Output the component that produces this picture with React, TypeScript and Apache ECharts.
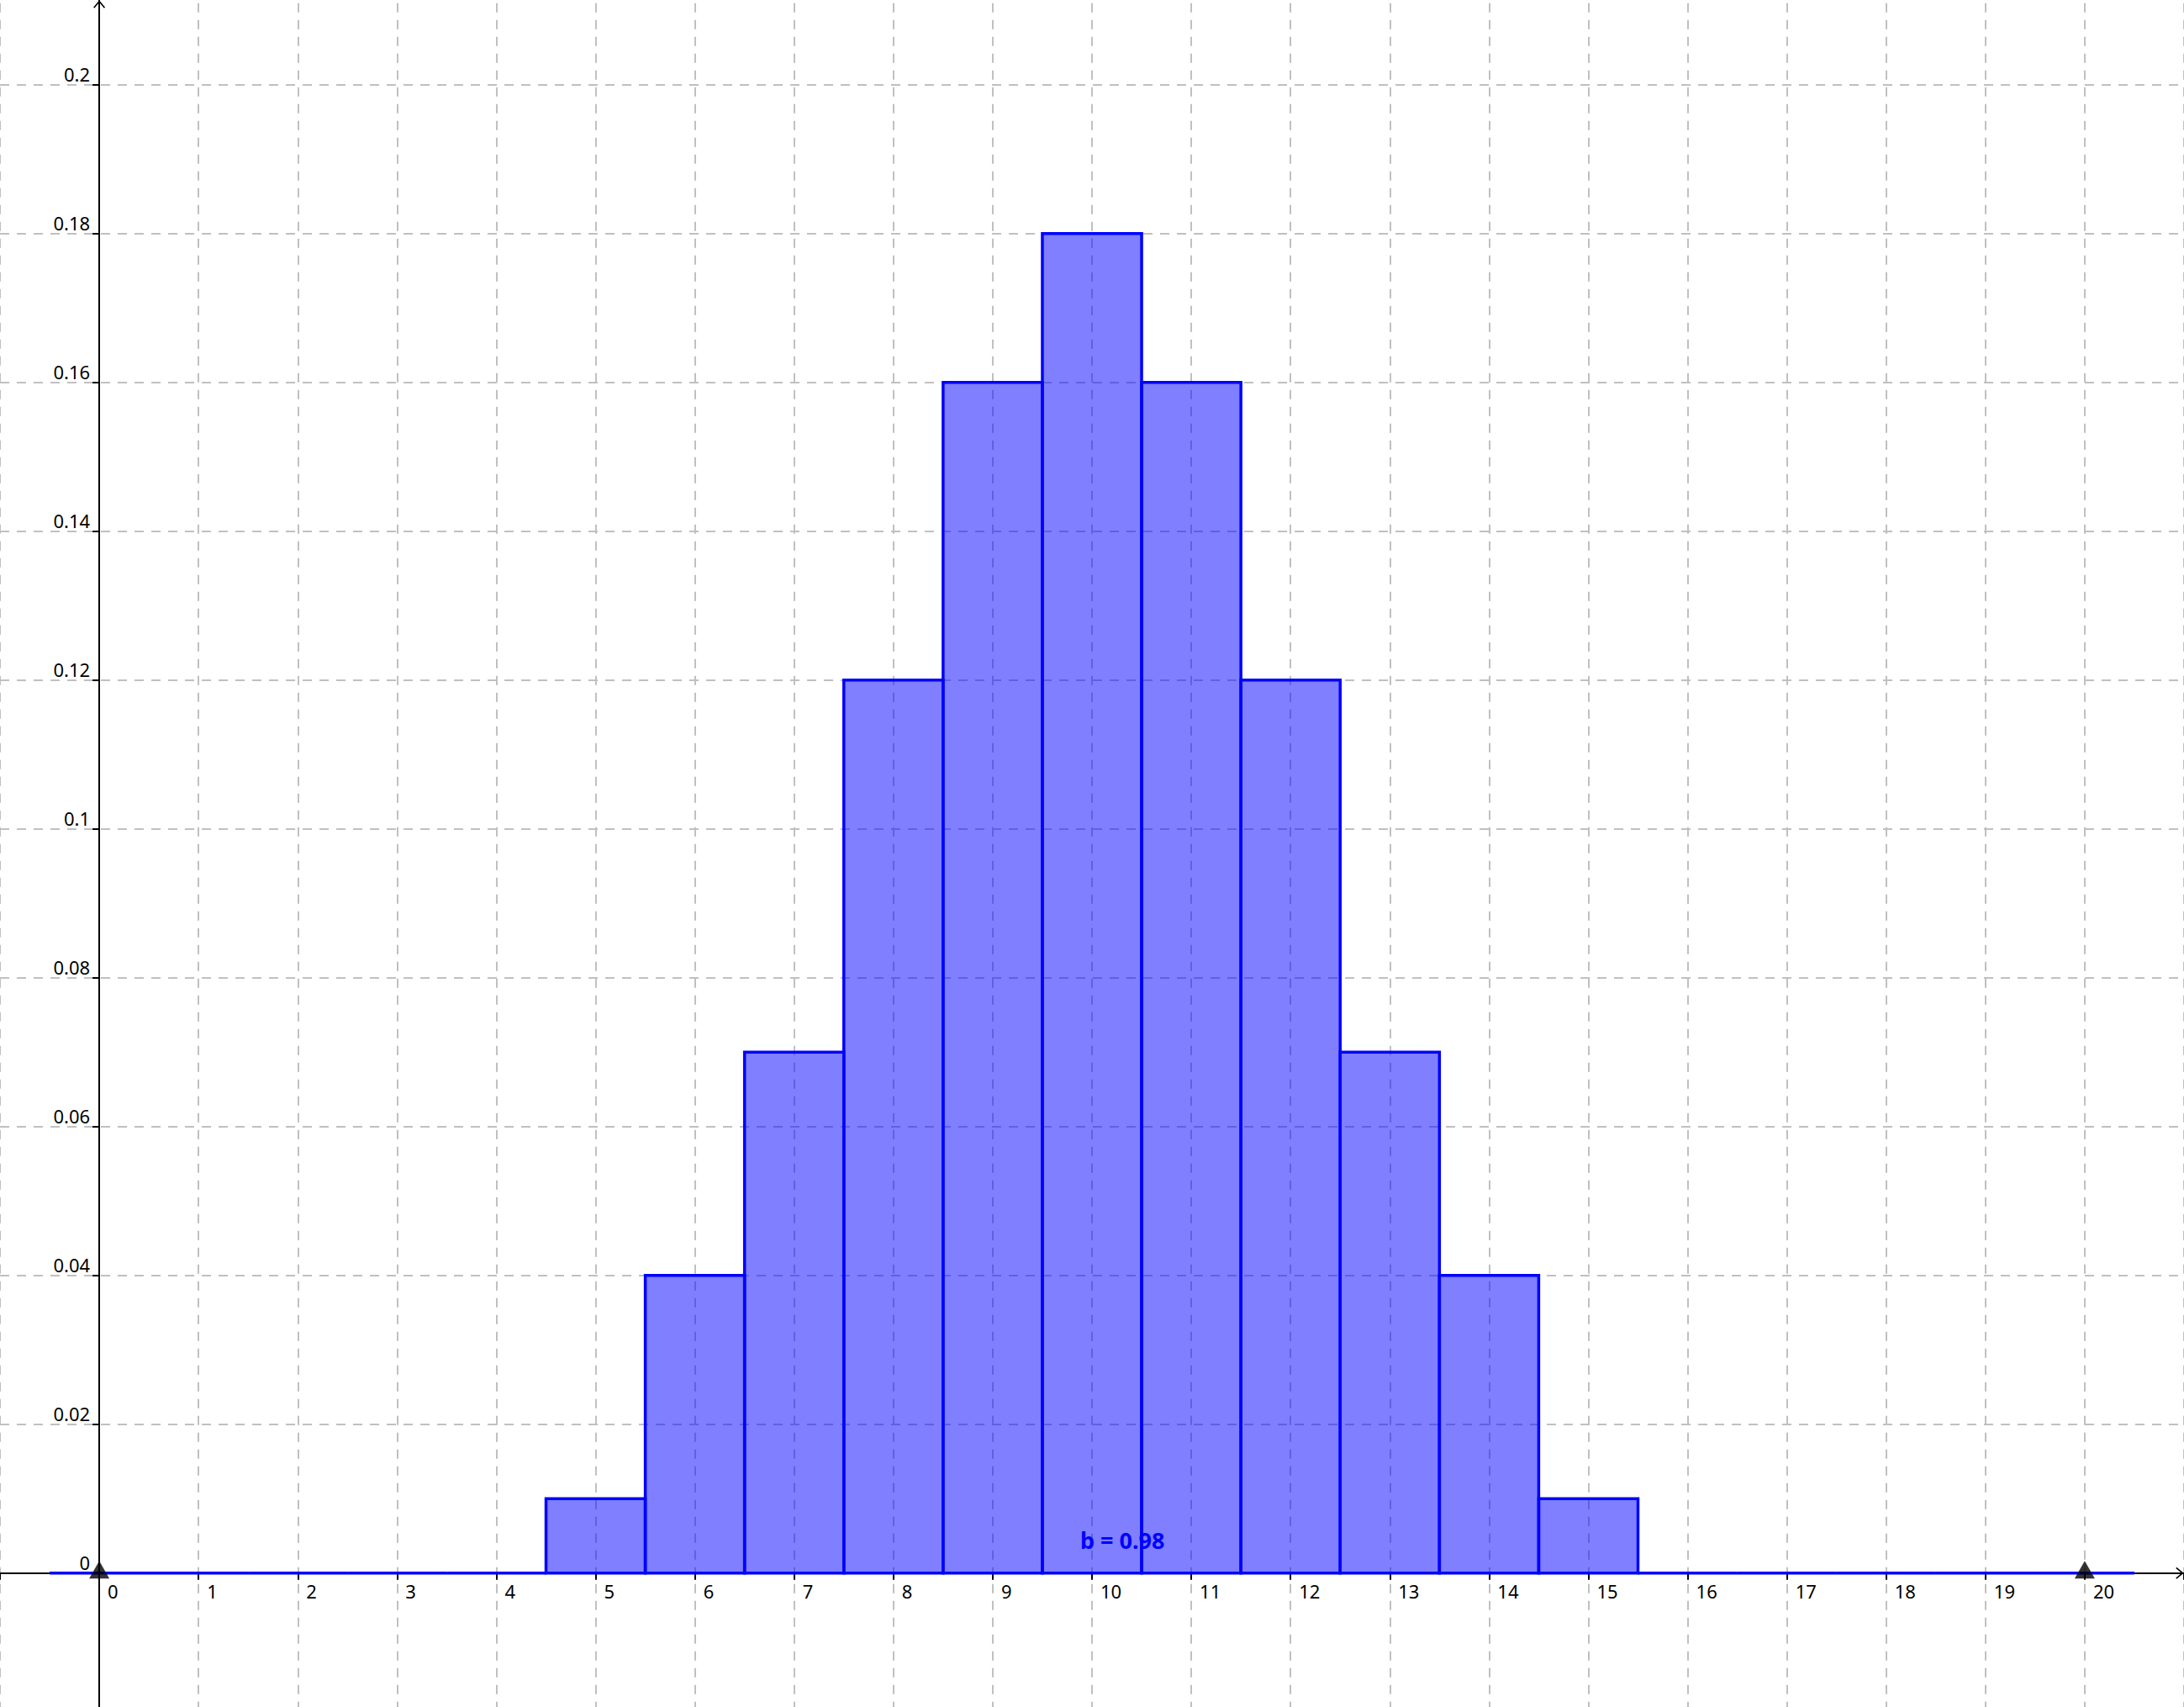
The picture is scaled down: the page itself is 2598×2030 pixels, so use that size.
import React, { useEffect, useRef } from 'react';
import * as echarts from 'echarts';

// binomial-like distribution, outcomes 0..20
const outcomes = [0, 1, 2, 3, 4, 5, 6, 7, 8, 9, 10, 11, 12, 13, 14, 15, 16, 17, 18, 19, 20];
const probabilities = [0, 0, 0, 0, 0, 0.01, 0.04, 0.07, 0.12, 0.16, 0.18, 0.16, 0.12, 0.07, 0.04, 0.01, 0, 0, 0, 0, 0];
const sliderPoints = [0, 20];
const xTickLabels = ['0', '1', '2', '3', '4', '5', '6', '7', '8', '9', '10', '11', '12', '13', '14', '15', '16', '17', '18', '19', '20'];
const yTickLabels = ['0', '0.02', '0.04', '0.06', '0.08', '0.1', '0.12', '0.14', '0.16', '0.18', '0.2'];

const W = 2598;
const H = 2030;
const Y_ZERO_PX = 1870.7;
const Y_STEP_PX = 177; // pixels per 0.02
const FONT = '"Noto Sans", "Open Sans", sans-serif';
const ARROW = 'path://M7,0 L14,8.5 L12.7,9.5 L7,2.6 L1.3,9.5 L0,8.5 Z';

export default function App() {
  const ref = useRef<HTMLDivElement>(null);
  useEffect(() => {
    if (!ref.current) return;
    const chart = echarts.init(ref.current, null, { renderer: 'svg' });
    const pxPerUnit = Y_STEP_PX / 0.02;
    const pxPerX = W / 22;
    const topOff = Y_ZERO_PX - 0.22 * pxPerUnit;
    const bottomOff = H - (Y_ZERO_PX + 0.02 * pxPerUnit);
    const total = probabilities.reduce((a, b) => a + b, 0);

    chart.setOption({
      animation: false,
      backgroundColor: '#fff',
      grid: [
        { left: 0, right: 0, top: topOff, bottom: bottomOff, outerBoundsMode: 'none', containLabel: false },
        { left: 0, right: 0, top: 0, bottom: 0, outerBoundsMode: 'none', containLabel: false },
      ],
      xAxis: [
        {
          type: 'value', gridIndex: 0, min: -1, max: 21, interval: 1,
          position: 'bottom', offset: -Y_STEP_PX,
          axisLine: { show: false, onZero: false },
          axisTick: { show: true, length: 8, lineStyle: { color: '#000', width: 2 } },
          axisLabel: {
            color: '#000', fontSize: 22, fontFamily: FONT, align: 'left', margin: 10,
            padding: [0, 0, 0, 10],
            formatter: (v: number) => {
              const i = Math.round(v);
              return i >= 0 && i < xTickLabels.length ? xTickLabels[i] : '';
            },
          },
          splitLine: { show: true, lineStyle: { color: '#c0c0c0', width: 2, type: [11, 9] } },
        },
        {
          type: 'value', gridIndex: 1, min: -1, max: 21,
          axisLine: {
            show: true, onZero: true, lineStyle: { color: '#000', width: 2 },
            symbol: ['none', ARROW], symbolSize: [14, 9.5], symbolOffset: [0, -5],
          },
          axisTick: { show: false }, axisLabel: { show: false }, splitLine: { show: false },
        },
      ],
      yAxis: [
        {
          type: 'value', gridIndex: 0, min: -0.02, max: 0.22, interval: 0.02,
          position: 'left', offset: -pxPerX,
          axisLine: { show: false, onZero: false },
          axisTick: { show: true, length: 8, lineStyle: { color: '#000', width: 2 } },
          axisLabel: {
            color: '#000', fontSize: 22, fontFamily: FONT, verticalAlign: 'bottom', margin: 11,
            padding: [0, 0, 2, 0],
            formatter: (v: number) => {
              const i = Math.round(v / 0.02);
              return i >= 0 && i < yTickLabels.length ? yTickLabels[i] : '';
            },
          },
          splitLine: { show: true, lineStyle: { color: '#c0c0c0', width: 2, type: [11, 9] } },
        },
        {
          type: 'value', gridIndex: 1,
          min: -(H - Y_ZERO_PX) / pxPerUnit, max: Y_ZERO_PX / pxPerUnit,
          axisLine: {
            show: true, onZero: true, lineStyle: { color: '#000', width: 2 },
            symbol: ['none', ARROW], symbolSize: [14, 9.5], symbolOffset: [0, -5],
          },
          axisTick: { show: false }, axisLabel: { show: false }, splitLine: { show: false },
        },
      ],
      series: [
        {
          type: 'custom',
          xAxisIndex: 0, yAxisIndex: 0,
          data: outcomes.map((x, i) => [x, probabilities[i]]),
          renderItem: (params: any, api: any) => {
            const x = api.value(0);
            const y = api.value(1);
            const p0 = api.coord([x - 0.5, y]);
            const p1 = api.coord([x + 0.5, 0]);
            if (y === 0) {
              return {
                type: 'line',
                shape: { x1: p0[0], y1: p1[1], x2: p1[0], y2: p1[1] },
                style: { stroke: '#0000ff', lineWidth: 3.5 },
              };
            }
            return {
              type: 'rect',
              shape: { x: p0[0], y: p0[1], width: p1[0] - p0[0], height: p1[1] - p0[1] },
              style: { fill: 'rgba(0,0,255,0.5)', stroke: '#0000ff', lineWidth: 3.5 },
            };
          },
          z: 3,
        },
        {
          type: 'scatter',
          xAxisIndex: 0, yAxisIndex: 0,
          data: sliderPoints.map((x) => [x, 0]),
          symbol: 'triangle',
          symbolSize: [24, 21],
          symbolOffset: [0, -4],
          itemStyle: { color: '#000' },
          z: 5,
        },
      ],
      graphic: [
        {
          type: 'text',
          left: 1285,
          top: 1818,
          z: 10,
          style: {
            text: `b = ${total.toFixed(2)}`,
            fill: '#0000ff',
            font: `bold 27px ${FONT}`,
          },
        },
      ],
    });
    return () => chart.dispose();
  }, []);
  return <div ref={ref} style={{ position: 'fixed', left: 0, top: 0, width: W, height: H }} />;
}
